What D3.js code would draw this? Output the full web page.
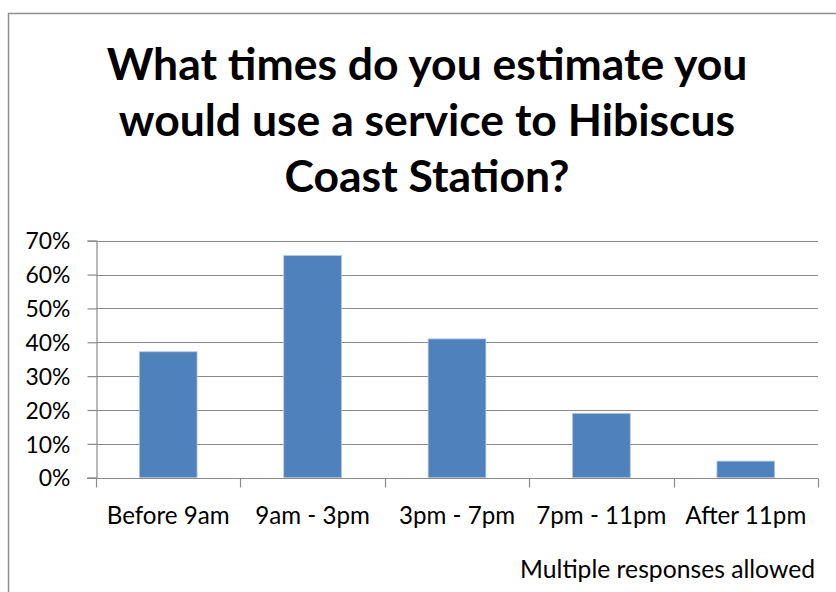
<!DOCTYPE html>
<html><head><meta charset="utf-8">
<script src="https://cdn.jsdelivr.net/npm/d3@7"></script>
<style>html,body{margin:0;padding:0;background:#fff;overflow:hidden}</style>
</head><body>
<svg id="c" width="836" height="592"></svg>
<script>
const titleLines = ["What times do you estimate you", "would use a service to Hibiscus", "Coast Station?"];
const categories = ["Before 9am", "9am - 3pm", "3pm - 7pm", "7pm - 11pm", "After 11pm"];
const values = [0.372, 0.656, 0.410, 0.190, 0.049];
const yTicks = [0, 0.1, 0.2, 0.3, 0.4, 0.5, 0.6, 0.7];
const footnote = "Multiple responses allowed";

const svg = d3.select("#c");
const FONT = "Lato, 'Open Sans', sans-serif";

// chart border
svg.append("rect").attr("x", 8.5).attr("y", 13.5).attr("width", 840).attr("height", 600)
  .attr("fill", "#fff").attr("stroke", "#8f8f8f").attr("stroke-width", 1.5);

const plot = {left: 96, right: 818, top: 240.7, bottom: 477.7};
const y = d3.scaleLinear().domain([0, 0.7]).range([plot.bottom, plot.top]);
const x = d3.scaleBand().domain(categories).range([plot.left, plot.right]).paddingInner(0.6).paddingOuter(0.3);
const xb = d3.scaleBand().domain(categories).range([plot.left, plot.right]).padding(0);

// fit helper: scale font size so a text reaches a target width
function fit(sel, base, target) {
  sel.attr("font-size", base);
  const w = sel.node().getComputedTextLength();
  sel.attr("font-size", base * target / w);
}

// title
const tl = svg.append("g");
const tsel = tl.selectAll("text").data(titleLines).join("text")
  .attr("x", 427).attr("y", (d, i) => 80 + i * 56)
  .attr("text-anchor", "middle").attr("font-family", FONT).attr("font-weight", "bold")
  .attr("fill", "#000").text(d => d);
const t0 = tsel.filter((d, i) => i === 0);
t0.attr("font-size", 40);
const tw = t0.node().getComputedTextLength();
tsel.attr("font-size", 40 * 641 / tw);

// gridlines
svg.append("g").selectAll("line").data(yTicks.slice(1)).join("line")
  .attr("x1", plot.left).attr("x2", plot.right)
  .attr("y1", d => Math.round(y(d)) + 0.5).attr("y2", d => Math.round(y(d)) + 0.5)
  .attr("stroke", "#8a8a8a").attr("stroke-width", 1.2);

// bars
svg.append("g").selectAll("rect").data(values).join("rect")
  .attr("x", (d, i) => x(categories[i]))
  .attr("width", x.bandwidth())
  .attr("y", d => y(d)).attr("height", d => y(0) - y(d))
  .attr("fill", "#4F81BD").attr("stroke", "#b4c8e2").attr("stroke-width", 0.8);

// y axis
const yAxis = d3.axisLeft(y).tickValues(yTicks).tickFormat(d3.format(".0%")).tickSize(9).tickPadding(0);
const gy = svg.append("g").attr("transform", `translate(${plot.left + 0.5},0)`).call(yAxis);
gy.select(".domain").attr("stroke", "#8a8a8a").attr("stroke-width", 1.2);
gy.selectAll(".tick line").attr("stroke", "#8a8a8a").attr("stroke-width", 1.2);
gy.selectAll(".tick text").attr("font-family", FONT).attr("fill", "#000").attr("x", -26).attr("dy", "0.36em");
{
  const lab = gy.selectAll(".tick text").filter(d => d === 0.7);
  lab.attr("font-size", 20);
  const w = lab.node().getComputedTextLength();
  gy.selectAll(".tick text").attr("font-size", 20 * 45 / w);
}

// x axis
const gx = svg.append("g").attr("transform", `translate(0,${Math.round(plot.bottom) + 0.5})`);
gx.append("line").attr("x1", plot.left - 9).attr("x2", plot.right).attr("y1", 0).attr("y2", 0)
  .attr("stroke", "#8a8a8a").attr("stroke-width", 1.2);
const bounds = categories.map(c => xb(c)).concat([plot.right]);
gx.selectAll("line.tk").data(bounds).join("line").attr("class", "tk")
  .attr("x1", d => Math.round(d) + 0.5).attr("x2", d => Math.round(d) + 0.5)
  .attr("y1", 0).attr("y2", 9).attr("stroke", "#8a8a8a").attr("stroke-width", 1.2);
const xl = gx.selectAll("text").data(categories).join("text")
  .attr("x", d => x(d) + x.bandwidth() / 2).attr("y", 45.5)
  .attr("text-anchor", "middle").attr("font-family", FONT).attr("fill", "#000").text(d => d);
{
  const lab = xl.filter((d, i) => i === 0);
  lab.attr("font-size", 20);
  const w = lab.node().getComputedTextLength();
  xl.attr("font-size", 20 * 123 / w);
}

// footnote
const fn = svg.append("text").attr("x", 815).attr("y", 578).attr("text-anchor", "end")
  .attr("font-family", FONT).attr("fill", "#000").text(footnote);
fit(fn, 20, 295);
</script>
</body></html>
